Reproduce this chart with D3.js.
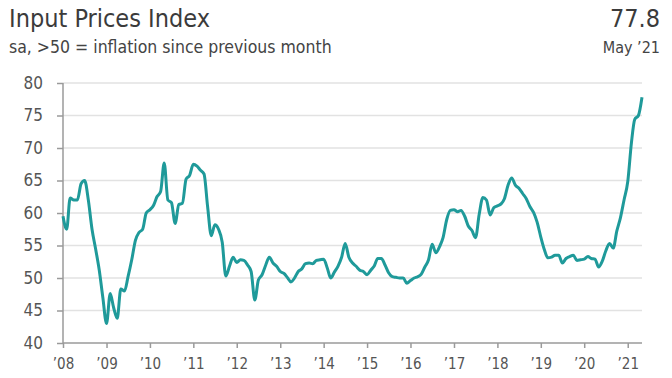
<!DOCTYPE html>
<html>
<head>
<meta charset="utf-8">
<script src="https://cdn.jsdelivr.net/npm/d3@7"></script>
<style>
  body { margin: 0; background: #fff; }
  svg { font-family: "Liberation Sans Narrow", "DejaVu Sans Condensed", sans-serif; }
</style>
</head>
<body>
<div id="chart"></div>
<script>
// monthly readings, Jan 2008 .. May 2021
const startMonth = new Date(2008, 0, 1);
const indexValues = [
    59.5, 57.5, 62.3, 62.0, 62.0, 64.5, 65.0, 62.0, 57.5, 54.5, 51.2, 47.0,
    43.0, 47.6, 45.5, 43.8, 48.3, 48.0, 50.2, 52.8, 55.8, 57.0, 57.5, 60.0,
    60.5, 61.2, 62.5, 63.3, 67.7, 62.0, 61.6, 58.4, 61.3, 61.5, 65.2, 65.8,
    67.5, 67.2, 66.6, 66.0, 61.0, 56.5, 58.2, 57.5, 55.5, 50.3, 51.8, 53.2,
    52.4, 52.8, 52.7, 52.0, 51.0, 46.6, 49.7, 50.5, 52.0, 53.2, 52.3, 51.8,
    51.0, 50.7, 50.1, 49.4, 50.0, 51.0, 51.4, 52.2, 52.3, 52.2, 52.7, 52.8,
    52.9, 51.5, 50.0, 50.9, 51.8, 53.2, 55.3, 53.2, 52.3, 51.8, 51.2, 51.0,
    50.5, 51.2, 51.8, 53.0, 53.0, 52.0, 50.8, 50.2, 50.1, 50.0, 50.0, 49.2,
    49.6, 50.0, 50.2, 50.6, 51.7, 52.8, 55.2, 53.9, 54.8, 56.2, 59.0, 60.4,
    60.5, 60.2, 60.4, 59.5, 58.0, 57.3, 56.2, 59.8, 62.4, 62.0, 59.7, 60.8,
    61.1, 61.4, 62.2, 64.3, 65.4, 64.3, 63.8, 63.0, 62.2, 61.0, 60.1, 58.6,
    56.3, 54.3, 53.1, 53.2, 53.5, 53.5, 52.3, 53.0, 53.3, 53.5, 52.7, 52.8,
    52.9, 53.3, 53.0, 52.9, 51.7, 52.6, 54.2, 55.3, 54.6, 57.2, 59.3, 62.0,
    64.8, 70.8, 74.4, 75.0, 77.8
];
const yTicks = [40, 45, 50, 55, 60, 65, 70, 75, 80];
const xTickYears = [2008, 2009, 2010, 2011, 2012, 2013, 2014, 2015, 2016, 2017, 2018, 2019, 2020, 2021];
const titleText = "Input Prices Index";
const subtitleText = "sa, >50 = inflation since previous month";
const latestValue = "77.8";
const latestLabel = "May \u201921";

const width = 672, height = 378;
const plot = { left: 63, right: 642, top: 83, bottom: 343 };

const data = indexValues.map((v, i) => ({
    date: d3.timeMonth.offset(startMonth, i),
    value: v
}));

const xScale = d3.scaleTime()
    .domain(d3.extent(data, (d) => d.date))
    .range([plot.left, plot.right]);

const yScale = d3.scaleLinear()
    .domain([40, 80])
    .range([plot.bottom, plot.top]);

const svg = d3.select("#chart").append("svg")
    .attr("width", width)
    .attr("height", height);

// header
svg.append("text")
    .attr("x", 9).attr("y", 27)
    .style("font-size", "25px").style("fill", "#3b3b3b")
    .text(titleText);
svg.append("text")
    .attr("x", 9).attr("y", 53)
    .style("font-size", "17.5px").style("fill", "#444")
    .text(subtitleText);
svg.append("text")
    .attr("x", 660).attr("y", 27)
    .attr("text-anchor", "end")
    .style("font-size", "25px").style("fill", "#3b3b3b")
    .text(latestValue);
svg.append("text")
    .attr("x", 660).attr("y", 53)
    .attr("text-anchor", "end")
    .style("font-size", "16px").style("fill", "#444")
    .text(latestLabel);

// gridlines
svg.append("g")
    .selectAll("line")
    .data(yTicks.filter((t) => t > 40))
    .enter().append("line")
    .attr("x1", plot.left).attr("x2", plot.right)
    .attr("y1", (d) => yScale(d)).attr("y2", (d) => yScale(d))
    .style("stroke", "#e2e2e2")
    .style("stroke-width", 1.5);

// y-axis
const yAxis = svg.append("g")
    .attr("transform", `translate(${plot.left}, 0)`)
    .call(d3.axisLeft(yScale).tickValues(yTicks).tickSize(6).tickPadding(14));

// x-axis
const xAxis = svg.append("g")
    .attr("transform", `translate(0, ${plot.bottom})`)
    .call(d3.axisBottom(xScale)
        .tickValues(xTickYears.map((y) => new Date(y, 0, 1)))
        .tickFormat((d) => "\u2019" + d3.timeFormat("%y")(d))
        .tickSize(5).tickPadding(10));

[yAxis, xAxis].forEach((ax) => {
    ax.selectAll("path.domain").style("stroke", "#9a9a9a").style("stroke-width", 1.5);
    ax.selectAll(".tick line").style("stroke", "#9a9a9a").style("stroke-width", 1.5);
    ax.selectAll(".tick text")
        .style("font-family", "\"Liberation Sans Narrow\", \"DejaVu Sans Condensed\", sans-serif")
        .style("fill", "#555");
});
yAxis.selectAll(".tick text").style("font-size", "17px");
xAxis.selectAll(".tick text").style("font-size", "15px");
yAxis.select("path.domain").attr("d", `M0,${plot.bottom}V${plot.top}`);
xAxis.select("path.domain").attr("d", `M${plot.left},0H${plot.right}`);

// index line
const line = d3.line()
    .x((d) => xScale(d.date))
    .y((d) => yScale(d.value))
    .curve(d3.curveMonotoneX);

svg.append("path")
    .datum(data)
    .attr("d", line)
    .style("fill", "none")
    .style("stroke", "#1f9a9a")
    .style("stroke-width", 3)
    .style("stroke-linejoin", "round");
</script>
</body>
</html>
